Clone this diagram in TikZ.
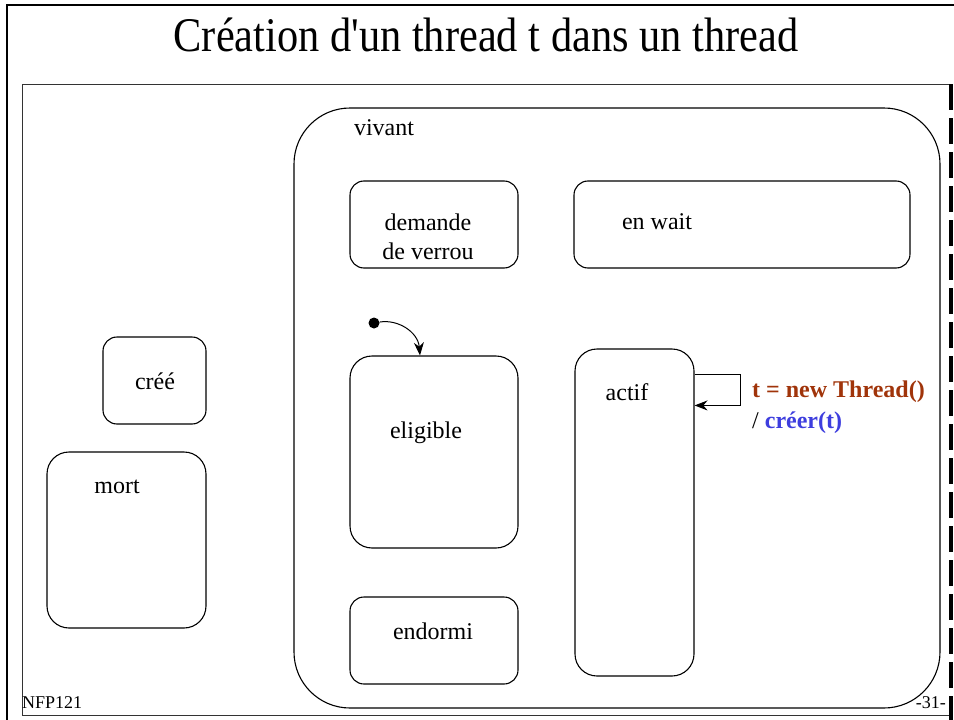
\documentclass[tikz,border=0pt]{standalone}
\usepackage{fontspec}
\setmainfont{Liberation Serif}
\newfontfamily\plainserif{Liberation Serif}[Ligatures=TeXOff]
\usetikzlibrary{arrows.meta,calc}
\definecolor{cbrown}{RGB}{160,52,10}
\definecolor{cblue}{RGB}{62,62,222}
\begin{document}
\begin{tikzpicture}[x=1pt,y=-1pt,
  statebox/.style={draw,line width=1.1pt,rounded corners=14pt,inner sep=0pt},
  bigbox/.style={draw,line width=1.1pt,rounded corners=22pt,inner sep=0pt},
  txt/.style={inner sep=0pt,font=\fontsize{24}{29}\selectfont},
  small/.style={inner sep=0pt,font=\fontsize{18}{20}\selectfont},
  arr/.style={line width=1pt,-{Stealth[length=13pt,width=10pt]}}]
\useasboundingbox (0,0) rectangle (954,720);
% outer frame
\draw[line width=2.5pt] (7,720) -- (7,5) -- (954,5);
% inner frame
\draw[line width=0.9pt,black!80] (950,84) -- (22,84) -- (22,715) -- (950,715);
\draw[line width=3.2pt,dash pattern=on 26pt off 8pt] (951,84) -- (951,720);
% title
\node[inner sep=0pt,anchor=base] (title) at (486,51) {\scalebox{1}[1.14]{\plainserif\fontsize{42.4}{46}\selectfont Création d'un thread t dans un thread}};
% vivant
\node[draw,line width=1.1pt,rounded corners=56pt,minimum width=646pt,minimum height=600pt,inner sep=0pt] (vivant) at (617,408) {};
\node[txt] (vivantlbl) at (384,128) {vivant};
% boxes
\node[statebox,minimum width=168pt,minimum height=87pt] (demande) at (434,224.5) {};
\node[txt,align=center] (demandelbl) at (428,237) {demande\\de verrou};
\node[statebox,minimum width=336pt,minimum height=87pt] (wait) at (742,224.5) {};
\node[txt] (waitlbl) at (657,222) {en wait};
\node[bigbox,minimum width=168pt,minimum height=192pt] (eligible) at (434,452) {};
\node[txt] (eligiblelbl) at (426,433) {eligible};
\node[statebox,minimum width=168pt,minimum height=87pt] (endormi) at (434,640.5) {};
\node[txt] (endormilbl) at (433,631) {endormi};
\node[bigbox,minimum width=119pt,minimum height=327pt] (actif) at (634.5,512.5) {};
\node[txt] (actiflbl) at (627,392) {actif};
\node[statebox,minimum width=103pt,minimum height=87pt] (cree) at (154.5,380.5) {};
\node[txt] (creelbl) at (155,381) {créé};
\node[bigbox,minimum width=159pt,minimum height=176pt] (mort) at (126.5,540) {};
\node[txt] (mortlbl) at (117,487) {mort};
% initial state
\node[circle,fill=black,inner sep=0pt,minimum size=11pt] (init) at (374,323) {};
\draw[arr] (init) .. controls (398,319) and (418,332) .. ([xshift=-14pt]eligible.north);
% self loop on actif
\draw[arr] ([yshift=-26pt]actif.north east) -- ++(46,0) -- ++(0,31) -- ++(-46,0);
\node[txt,anchor=west,font=\fontsize{24}{29}\selectfont\bfseries,text=cbrown] (evt) at (752,392) {t = new Thread()};
\node[txt,anchor=west,font=\fontsize{24}{29}\selectfont\bfseries] (act) at (752,423) {\mdseries /\ \bfseries\textcolor{cblue}{créer(t)}};
% footer
\node[small,anchor=west] (nfp) at (22,703) {NFP121};
\node[small,anchor=east] (page) at (946,703) {-31-};
\end{tikzpicture}
\end{document}
